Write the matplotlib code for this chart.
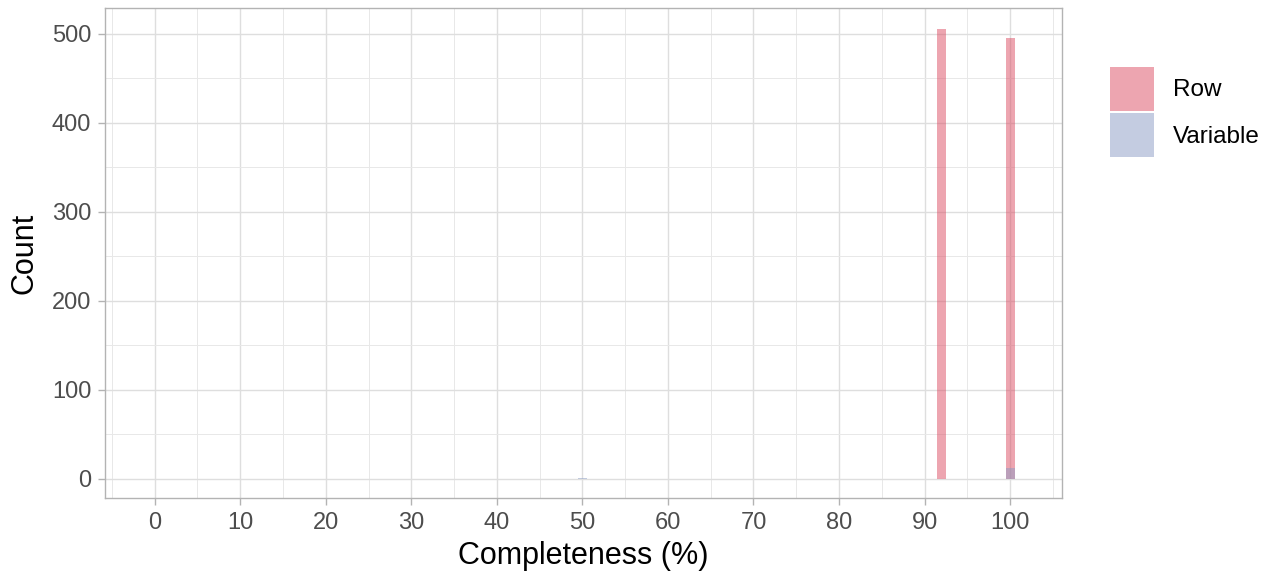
import matplotlib
matplotlib.use("Agg")
import matplotlib.pyplot as plt
from matplotlib.patches import Patch
from matplotlib.ticker import MultipleLocator

plt.rcParams['font.family'] = ['Liberation Sans', 'DejaVu Sans']

# histogram bins (centre, %) and counts
row_pct = [92, 100]
row_count = [506, 495]
var_pct = [50, 100]
var_count = [1, 12]

labels = ["Row", "Variable"]
colors = ["#DC4D63", "#8A9BC4"]

fig = plt.figure(figsize=(12.73, 5.77), dpi=100)
ax = fig.add_axes([0.0825, 0.137, 0.752, 0.849])

ax.bar(row_pct, row_count, width=1.05, color=colors[0], alpha=0.5, zorder=3, linewidth=0)
ax.bar(var_pct, var_count, width=1.05, color=colors[1], alpha=0.5, zorder=3, linewidth=0)

ax.set_xlim(-5.8, 106.1)
ax.set_ylim(-21.5, 529)
ax.xaxis.set_major_locator(MultipleLocator(10))
ax.xaxis.set_minor_locator(MultipleLocator(5))
ax.yaxis.set_major_locator(MultipleLocator(100))
ax.yaxis.set_minor_locator(MultipleLocator(50))
ax.grid(which="major", color="#DEDEDE", linewidth=1.0, zorder=0)
ax.grid(which="minor", color="#E8E8E8", linewidth=0.7, zorder=0)
ax.set_axisbelow(True)

for s in ax.spines.values():
    s.set_color("#B3B3B3")
    s.set_linewidth(1.0)
ax.tick_params(which="major", colors="#B3B3B3", labelcolor="#4D4D4D", labelsize=17, length=5, width=1, pad=5)
ax.tick_params(which="minor", length=0)

ax.set_xlabel("Completeness (%)", fontsize=22, labelpad=5)
ax.set_ylabel("Count", fontsize=22, labelpad=9)

handles = [Patch(facecolor=c, alpha=0.5, linewidth=0) for c in colors]
fig.legend(handles, labels, loc="upper left", bbox_to_anchor=(0.872, 0.884),
           frameon=False, fontsize=17.5, handlelength=1.8, handleheight=2.4,
           labelspacing=0.1, handletextpad=0.8, borderaxespad=0, borderpad=0)

fig.savefig("out.png", dpi=100)
